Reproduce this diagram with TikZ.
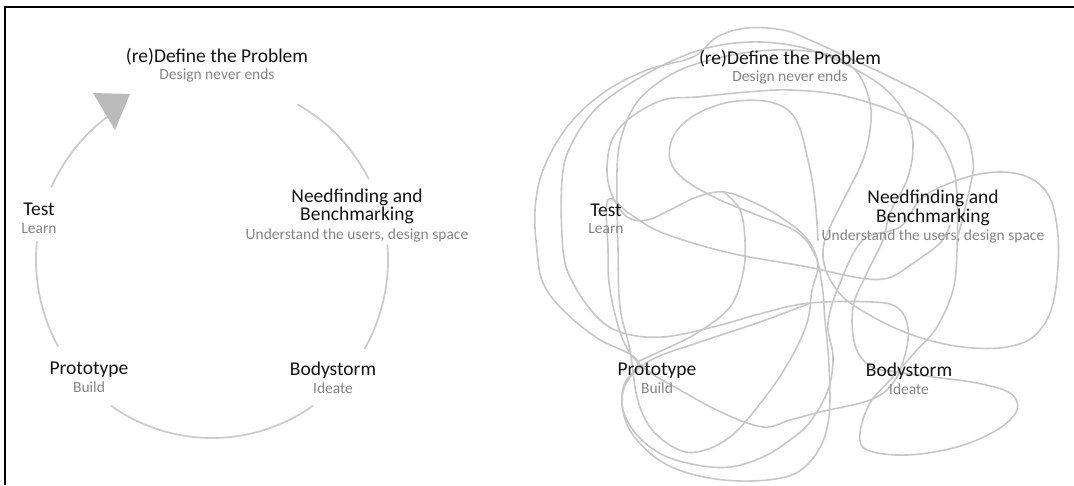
\documentclass[tikz,border=0pt]{standalone}
\usepackage{fontspec}
\setmainfont{Carlito}
\begin{document}
\begin{tikzpicture}[x=1pt,y=-1pt,
  ttl/.style={font=\fontsize{19.5}{18}\selectfont, text=black!92, inner sep=0pt, anchor=base},
  sub/.style={font=\fontsize{15.5}{16}\selectfont, text=black!48, inner sep=0pt, anchor=base},
  ring/.style={draw=black!20, line width=1.8pt},
  scrib/.style={draw=black!22, line width=1.6pt, line join=round, line cap=round}]
\useasboundingbox (0,0) rectangle (1074,485);
% frame
\draw[line width=2.5pt, black] (5,485) -- (5,7) -- (1074,7);
% ---------- left: cycle ----------
\draw[ring] plot[domain=27:61, samples=30, smooth] ({212+176*cos(\x)},{260-178*sin(\x)});
\draw[ring] plot[domain=-30:5, samples=30, smooth] ({212+176*cos(\x)},{260-178*sin(\x)});
\draw[ring] plot[domain=-125:-55, samples=40, smooth] ({212+176*cos(\x)},{260-178*sin(\x)});
\draw[ring] plot[domain=174:209, samples=30, smooth] ({212+176*cos(\x)},{260-178*sin(\x)});
\draw[ring] plot[domain=125.5:156, samples=30, smooth] ({212+176*cos(\x)},{260-178*sin(\x)});
\fill[black!27] (93,93) -- (130,94) -- (115,130) -- cycle;
\node[ttl] (lt1) at (217,62) {(re)Define the Problem};
\node[sub] (ls1) at (217,79) {Design never ends};
\node[ttl] (lt2) at (39,215) {Test};
\node[sub] (ls2) at (39,233) {Learn};
\node[ttl] (lt3a) at (357,202) {Needfinding and};
\node[ttl] (lt3b) at (357,220) {Benchmarking};
\node[sub] (ls3) at (357,239) {Understand the users, design space};
\node[ttl] (lt4) at (89,374) {Prototype};
\node[sub] (ls4) at (89,392) {Build};
\node[ttl] (lt5) at (333,375) {Bodystorm};
\node[sub] (ls5) at (333,393) {Ideate};
% ---------- right: scribble ----------
\draw[scrib] plot[smooth, tension=0.6] coordinates {
(957,240) (970,187) (973,160) (963,127) (933,100) (890,77) (847,57) (810,40) (783,30) (747,28) (717,37) (693,57) (647,70) (603,93) (567,127) (543,170) (535,210) (537,250) (543,283) (563,310) (597,338) (637,360) (624,385) (623,410) (637,435) (663,455) (697,465) (730,467) (763,457) (790,440) (810,422) (828,390) (833,357) (828,323) (840,283) (863,240) (900,227) (923,197) (964,178) (1000,172) (1030,178) (1050,198) (1058,236) (1057,278) (1050,313) (1033,337) (1007,347) (973,348) (940,343) (907,333) (873,317) (843,297) (827,273) (823,250) (830,227) (847,193) (863,160) (870,130) (870,103) (857,72) (830,55) (790,50) (750,52) (710,60) (680,70) (655,85) (635,105) (622,135) (617,170) (618,250) (620,307) (630,350) (637,397) (650,427) (673,447) (697,452) (730,437) (763,400) (790,360) (807,323) (812,290) (818,265) (808,240) (785,220) (755,203) (724,192) (697,197) (670,210) (647,220) (627,217) (612,195) (607,170) (612,140) (630,118) (663,100) (697,97) (747,92) (790,90) (840,95) (890,110) (930,130) (950,160) (957,193) (957,250) (953,290) (937,327) (917,350) (890,380) (870,403) (860,433) (867,450) (907,455) (957,447) (997,430) (1017,410) (1010,393) (977,383) (933,377) (897,372) (870,366) (855,345) (853,307) (867,273) (883,240) (890,213) (907,180) (913,147) (907,117) (883,87) (843,63) (800,47) (750,42) (700,50) (650,72) (600,105) (572,143) (562,180) (563,250) (573,283) (597,317) (623,333) (663,337) (713,327) (763,313) (810,303) (873,302) (898,308) (908,328) (905,355) (893,383) (870,400) (820,412) (790,420) (763,427) (723,413) (680,390) (643,367) (623,340) (610,290) (608,250) (608,200) (630,214) (663,233) (730,253) (808,267) (860,278) (888,278) (912,264) (940,243) (950,225)};
\draw[scrib] plot[smooth, tension=0.6] coordinates {
(818,240) (815,200) (808,160) (795,118) (770,102) (730,102) (695,115) (674,135) (670,160) (685,180) (720,200) (757,215) (797,232) (815,255) (822,285) (825,320) (829,365) (829,417) (818,451) (794,474) (752,481) (704,477) (662,462) (631,432) (622,400) (631,376) (655,358) (700,342) (760,322) (808,304)};
\draw[scrib] plot[smooth, tension=0.6] coordinates {
(724,192) (740,210) (745,240) (743,273) (730,307) (697,333) (663,350) (637,362)};
\node[ttl] (rt1) at (790,64) {(re)Define the Problem};
\node[sub] (rs1) at (790,81) {Design never ends};
\node[ttl] (rt2) at (606,216) {Test};
\node[sub] (rs2) at (606,233) {Learn};
\node[ttl] (rt3a) at (933,203) {Needfinding and};
\node[ttl] (rt3b) at (933,222) {Benchmarking};
\node[sub] (rs3) at (933,240) {Understand the users, design space};
\node[ttl] (rt4) at (657,375) {Prototype};
\node[sub] (rs4) at (657,393) {Build};
\node[ttl] (rt5) at (909,376) {Bodystorm};
\node[sub] (rs5) at (909,394) {Ideate};
\end{tikzpicture}
\end{document}
